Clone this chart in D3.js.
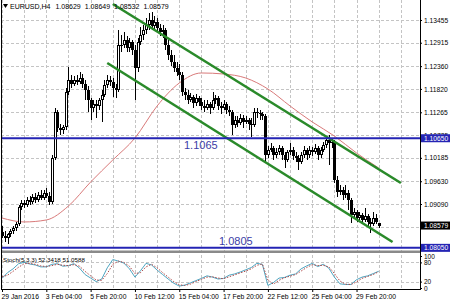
<!DOCTYPE html>
<html lang="en">
<head>
<meta charset="utf-8">
<script src="https://d3js.org/d3.v7.min.js"></script>
<style>
    html, body { margin: 0; padding: 0; background: #fff; }
    svg { display: block; font-family: "Liberation Sans", Arial, sans-serif; }
    .price-axis text { font-size: 6.7px; fill: #000; }
    .time-axis text { font-size: 6.8px; fill: #000; }
    .stoch-axis text { font-size: 6.5px; fill: #000; }
</style>
</head>
<body>
<svg id="chart" width="450" height="303"></svg>
<script>
// ---- data ----
var symbol = "EURUSD,H4";
var timeLabels = ["29 Jan 2016", "3 Feb 04:00", "5 Feb 20:00", "10 Feb 12:00", "15 Feb 04:00",
                  "17 Feb 20:00", "22 Feb 12:00", "25 Feb 04:00", "29 Feb 20:00"];
var priceTicks = [1.13455, 1.12915, 1.12360, 1.11820, 1.11265, 1.10725, 1.10185, 1.09630, 1.09090, 1.08550];

var opens = [
    1.08426, 1.08331, 1.08283, 1.08378, 1.08449, 1.08521, 1.08616, 1.09019, 1.09114, 1.09066,
    1.09185, 1.09138, 1.09256, 1.09185, 1.09303, 1.09232, 1.09351, 1.09280, 1.09138, 1.10181,
    1.11273, 1.10893, 1.10845, 1.10917, 1.11747, 1.12031, 1.11936, 1.12031, 1.11984, 1.12079,
    1.11936, 1.11794, 1.11557, 1.11367, 1.11462, 1.11415, 1.11557, 1.11675, 1.11912, 1.12031,
    1.11984, 1.11841, 1.11794, 1.12861, 1.12861, 1.12980, 1.12790, 1.12933, 1.12743, 1.12316,
    1.12933, 1.13098, 1.13217, 1.13336, 1.13455, 1.13313, 1.13408, 1.13265, 1.13170, 1.13217,
    1.12861, 1.12624, 1.12459, 1.12316, 1.12222, 1.12150, 1.11747, 1.11675, 1.11557, 1.11628,
    1.11486, 1.11604, 1.11510, 1.11415, 1.11367, 1.11462, 1.11367, 1.11557, 1.11604, 1.11415,
    1.11367, 1.11462, 1.11320, 1.11273, 1.10964, 1.11083, 1.11012, 1.11130, 1.11036, 1.11083,
    1.10988, 1.10964, 1.11273, 1.11260, 1.11225, 1.11178, 1.10252, 1.10371, 1.10418, 1.10252,
    1.10324, 1.10418, 1.10252, 1.10134, 1.10324, 1.10371, 1.10229, 1.10181, 1.10087, 1.10252,
    1.10371, 1.10252, 1.10371, 1.10324, 1.10418, 1.10252, 1.10371, 1.10490, 1.10608, 1.10537,
    1.10561, 1.09659, 1.09375, 1.09422, 1.09303, 1.09351, 1.09185, 1.08829, 1.08901, 1.08758,
    1.08829, 1.08711, 1.08806, 1.08664, 1.08616, 1.08758, 1.08629];
var highs = [
    1.08569, 1.08449, 1.08402, 1.08498, 1.08569, 1.08664, 1.09066, 1.09185, 1.09185, 1.09256,
    1.09280, 1.09327, 1.09351, 1.09375, 1.09422, 1.09422, 1.09469, 1.09375, 1.10252, 1.11367,
    1.11320, 1.10988, 1.10964, 1.11841, 1.12340, 1.12150, 1.12127, 1.12150, 1.12222, 1.12174,
    1.12031, 1.11889, 1.11604, 1.11557, 1.11557, 1.11604, 1.11794, 1.12031, 1.12150, 1.12127,
    1.12079, 1.11936, 1.13217, 1.13098, 1.13170, 1.13075, 1.13027, 1.12980, 1.12861, 1.13027,
    1.13289, 1.13336, 1.13502, 1.13621, 1.13645, 1.13550, 1.13502, 1.13360, 1.13336, 1.13265,
    1.12980, 1.12743, 1.12624, 1.12459, 1.12411, 1.12222, 1.11841, 1.11794, 1.11723, 1.11675,
    1.11699, 1.11652, 1.11604, 1.11557, 1.11557, 1.11510, 1.11747, 1.11675, 1.11652, 1.11510,
    1.11557, 1.11510, 1.11415, 1.11320, 1.11178, 1.11178, 1.11225, 1.11201, 1.11178, 1.11130,
    1.11130, 1.11367, 1.11367, 1.11320, 1.11273, 1.11225, 1.10466, 1.10537, 1.10466, 1.10418,
    1.10490, 1.10466, 1.10324, 1.10371, 1.10537, 1.10442, 1.10324, 1.10252, 1.10324, 1.10466,
    1.10418, 1.10466, 1.10442, 1.10513, 1.10466, 1.10442, 1.10561, 1.10679, 1.10726, 1.10655,
    1.10608, 1.09755, 1.09541, 1.09494, 1.09541, 1.09422, 1.09232, 1.08995, 1.08948, 1.08901,
    1.08877, 1.08995, 1.08853, 1.08758, 1.08901, 1.08853, 1.08649];
var lows = [
    1.08283, 1.08189, 1.08141, 1.08307, 1.08378, 1.08449, 1.08569, 1.08948, 1.08995, 1.09019,
    1.09066, 1.09090, 1.09114, 1.09138, 1.09185, 1.09185, 1.09232, 1.09066, 1.09090, 1.10134,
    1.10798, 1.10726, 1.10750, 1.10845, 1.11675, 1.11841, 1.11889, 1.11912, 1.11936, 1.11841,
    1.11557, 1.11273, 1.11083, 1.11273, 1.11130, 1.11320, 1.11036, 1.11628, 1.11841, 1.11889,
    1.11628, 1.11604, 1.11747, 1.12696, 1.12790, 1.12696, 1.12696, 1.12624, 1.11557, 1.12222,
    1.12861, 1.12980, 1.13122, 1.13217, 1.13217, 1.13217, 1.13170, 1.13075, 1.13027, 1.12743,
    1.12506, 1.12364, 1.12222, 1.12127, 1.12031, 1.11652, 1.11557, 1.11462, 1.11510, 1.11367,
    1.11415, 1.11415, 1.11320, 1.11273, 1.11320, 1.11225, 1.11320, 1.11462, 1.11320, 1.11225,
    1.11320, 1.11225, 1.11178, 1.10726, 1.10893, 1.10917, 1.10964, 1.10893, 1.10988, 1.10845,
    1.10679, 1.10917, 1.11130, 1.11083, 1.11083, 1.10087, 1.10181, 1.10324, 1.10134, 1.10181,
    1.10252, 1.10134, 1.09944, 1.10087, 1.10252, 1.10134, 1.10087, 1.09897, 1.10039, 1.10181,
    1.10134, 1.10181, 1.10229, 1.10276, 1.10134, 1.10181, 1.10324, 1.10418, 1.10015, 1.10418,
    1.09588, 1.09256, 1.09303, 1.09185, 1.09232, 1.08948, 1.08640, 1.08758, 1.08664, 1.08711,
    1.08616, 1.08664, 1.08569, 1.08402, 1.08569, 1.08616, 1.08532];
var closes = [
    1.08331, 1.08283, 1.08378, 1.08449, 1.08521, 1.08616, 1.09019, 1.09114, 1.09066, 1.09185,
    1.09138, 1.09256, 1.09185, 1.09303, 1.09232, 1.09351, 1.09280, 1.09138, 1.10181, 1.11273,
    1.10893, 1.10845, 1.10917, 1.11747, 1.12031, 1.11936, 1.12031, 1.11984, 1.12079, 1.11936,
    1.11794, 1.11557, 1.11367, 1.11462, 1.11415, 1.11557, 1.11675, 1.11912, 1.12031, 1.11984,
    1.11841, 1.11794, 1.12861, 1.12861, 1.12980, 1.12790, 1.12933, 1.12743, 1.12316, 1.12933,
    1.13098, 1.13217, 1.13336, 1.13455, 1.13313, 1.13408, 1.13265, 1.13170, 1.13217, 1.12861,
    1.12624, 1.12459, 1.12316, 1.12222, 1.12150, 1.11747, 1.11675, 1.11557, 1.11628, 1.11486,
    1.11604, 1.11510, 1.11415, 1.11367, 1.11462, 1.11367, 1.11557, 1.11604, 1.11415, 1.11367,
    1.11462, 1.11320, 1.11273, 1.10964, 1.11083, 1.11012, 1.11130, 1.11036, 1.11083, 1.10988,
    1.10964, 1.11273, 1.11260, 1.11225, 1.11178, 1.10252, 1.10371, 1.10418, 1.10252, 1.10324,
    1.10418, 1.10252, 1.10134, 1.10324, 1.10371, 1.10229, 1.10181, 1.10087, 1.10252, 1.10371,
    1.10252, 1.10371, 1.10324, 1.10418, 1.10252, 1.10371, 1.10490, 1.10608, 1.10537, 1.10561,
    1.09659, 1.09375, 1.09422, 1.09303, 1.09351, 1.09185, 1.08829, 1.08901, 1.08758, 1.08829,
    1.08711, 1.08806, 1.08664, 1.08616, 1.08758, 1.08664, 1.08579];

// moving average, one reading every 8 bars
var maValues = [1.08758, 1.08664, 1.08711, 1.09043, 1.09612, 1.10134, 1.10655, 1.11415, 1.11960,
                1.12198, 1.12174, 1.12079, 1.11818, 1.11415, 1.11036, 1.10703, 1.10300, 1.09944];

// stochastic, one reading every 2 bars
var stochMain = [
    30, 48, 60, 76, 80, 75, 72, 66, 66, 74,
    76, 68, 70, 76, 62, 42, 31, 20, 28, 63,
    89, 84, 78, 60, 34, 54, 77, 72, 56, 42,
    28, 15, 6, 9, 16, 23, 30, 38, 34, 28,
    30, 40, 44, 50, 57, 64, 77, 74, 8, 17,
    31, 33, 40, 44, 60, 69, 77, 67, 74, 62,
    34, 13, 11, 11, 26, 34, 38, 45, 52.3418];
var stochSignal = [
    35, 40, 52, 65, 76, 77, 74, 69, 67, 70,
    74, 71, 70, 73, 68, 52, 38, 25, 24, 45,
    74, 84, 80, 68, 45, 48, 66, 74, 63, 48,
    34, 20, 10, 8, 12, 20, 27, 34, 35, 31,
    29, 35, 41, 47, 53, 60, 71, 75, 25, 12,
    24, 32, 37, 42, 53, 64, 73, 70, 71, 66,
    45, 22, 12, 11, 19, 30, 36, 42, 51.0588];
var stochTicks = [100, 80, 20, 0];
var stochLevels = [80, 20];

// horizontal levels and trend channel (bar index, price)
var levelPrices = [1.10650, 1.08050];
var levelTexts = ["1.1065", "1.0805"];
var channelUpper = [[40, 1.13834], [144, 1.09588]];
var channelLower = [[38, 1.12435], [141, 1.08189]];

// ---- drawing ----
var svg = d3.select("#chart");
var left = 1, right = 420, mainBottom = 250, stochTop = 253, bottom = 289;
var barStep = 8, labelStep = 16, maStep = 8, stochStep = 2;
var last = closes.length - 1;

var x = d3.scaleLinear().domain([0, last]).range([2, 378.7]);
var y = d3.scaleLinear().domain([1.07999, 1.13929]).range([mainBottom, 0]);
var ys = d3.scaleLinear().domain([0, 100]).range([288, 256]);

svg.append("rect").attr("width", 450).attr("height", 303).attr("fill", "#fff");

svg.append("clipPath").attr("id", "clip-main")
    .append("rect").attr("x", left).attr("y", 0).attr("width", right - left).attr("height", mainBottom);
svg.append("clipPath").attr("id", "clip-stoch")
    .append("rect").attr("x", left).attr("y", stochTop).attr("width", right - left).attr("height", bottom - stochTop);

// grid
var gridIdx = d3.range(0, 145, barStep);
var grid = svg.append("g").attr("stroke", "#c4c4c4").attr("stroke-dasharray", "3,2")
    .attr("shape-rendering", "crispEdges");
grid.selectAll(".vgrid").data(gridIdx).join("line").attr("class", "vgrid")
    .attr("x1", d => Math.round(x(d)) + 0.5).attr("x2", d => Math.round(x(d)) + 0.5)
    .attr("y1", 0).attr("y2", bottom);
grid.selectAll(".hgrid").data(priceTicks).join("line").attr("class", "hgrid")
    .attr("x1", left).attr("x2", right)
    .attr("y1", d => Math.round(y(d)) + 0.5).attr("y2", d => Math.round(y(d)) + 0.5);
grid.selectAll(".sgrid").data(stochLevels).join("line").attr("class", "sgrid")
    .attr("x1", left).attr("x2", right)
    .attr("y1", d => Math.round(ys(d)) + 0.5).attr("y2", d => Math.round(ys(d)) + 0.5);

var main = svg.append("g").attr("clip-path", "url(#clip-main)");

// moving average
var maLine = d3.line().curve(d3.curveMonotoneX)
    .x((d, i) => x(i * maStep)).y(d => y(d));
main.append("path").attr("d", maLine(maValues))
    .attr("fill", "none").attr("stroke", "#d97a7a").attr("stroke-width", 1);

// candles
var bars = closes.map(function(c, i) {
    return {i: i, o: opens[i], h: highs[i], l: lows[i], c: c};
});
var candles = main.append("g").attr("shape-rendering", "crispEdges");
candles.selectAll(".wick").data(bars).join("rect").attr("class", "wick")
    .attr("x", d => Math.round(x(d.i)))
    .attr("width", 1)
    .attr("y", d => Math.round(y(d.h)))
    .attr("height", d => Math.max(1, Math.round(y(d.l)) - Math.round(y(d.h))))
    .attr("fill", "#000");
candles.selectAll(".body").data(bars).join("rect").attr("class", "body")
    .attr("x", d => Math.round(x(d.i)) - 1)
    .attr("width", 3)
    .attr("y", d => Math.round(y(Math.max(d.o, d.c))))
    .attr("height", d => Math.max(1, Math.round(y(Math.min(d.o, d.c))) - Math.round(y(Math.max(d.o, d.c)))))
    .attr("fill", "#000");
candles.selectAll(".hollow").data(bars.filter(d => d.c > d.o && Math.round(y(d.o)) - Math.round(y(d.c)) > 2))
    .join("rect").attr("class", "hollow")
    .attr("x", d => Math.round(x(d.i)))
    .attr("width", 1)
    .attr("y", d => Math.round(y(d.c)) + 1)
    .attr("height", d => Math.round(y(d.o)) - Math.round(y(d.c)) - 2)
    .attr("fill", "#fff");

// trend channel
[channelUpper, channelLower].forEach(function(seg) {
    main.append("line")
        .attr("x1", x(seg[0][0])).attr("y1", y(seg[0][1]))
        .attr("x2", x(seg[1][0])).attr("y2", y(seg[1][1]))
        .attr("stroke", "#2a8a2a").attr("stroke-width", 2.6).attr("stroke-linecap", "butt");
});

// horizontal levels
main.selectAll(".level").data(levelPrices).join("line").attr("class", "level")
    .attr("x1", left).attr("x2", right)
    .attr("y1", d => y(d)).attr("y2", d => y(d))
    .attr("stroke", "#2424b4").attr("stroke-width", 2);
svg.append("text").attr("x", 184).attr("y", y(levelPrices[0]) + 10.5)
    .attr("font-size", 11).attr("fill", "#3c3ca6").text(levelTexts[0]);
svg.append("text").attr("x", 219).attr("y", y(levelPrices[1]) - 3)
    .attr("font-size", 11).attr("fill", "#3c3ca6").text(levelTexts[1]);

// separator between panels
svg.append("rect").attr("x", left).attr("y", 250.5).attr("width", right - left).attr("height", 2.5)
    .attr("fill", "#8a8a8a");

// stochastic
var stoch = svg.append("g").attr("clip-path", "url(#clip-stoch)");
var sLine = d3.line().x((d, i) => x(i * stochStep)).y(d => ys(d));
stoch.append("path").attr("d", sLine(stochMain))
    .attr("fill", "none").attr("stroke", "#4fa6c2").attr("stroke-width", 1);
stoch.append("path").attr("d", sLine(stochSignal))
    .attr("fill", "none").attr("stroke", "#b04848").attr("stroke-width", 1)
    .attr("stroke-dasharray", "1.5,1.5");
svg.append("text").attr("x", 3).attr("y", 262).attr("font-size", 6.2).attr("fill", "#000")
    .text("Stoch(5,3,3) " + stochMain[stochMain.length - 1].toFixed(4) + " " +
          stochSignal[stochSignal.length - 1].toFixed(4));

// frame
var frame = svg.append("g").attr("stroke", "#000").attr("shape-rendering", "crispEdges");
frame.append("line").attr("x1", 1.5).attr("x2", 1.5).attr("y1", 0).attr("y2", bottom);
frame.append("line").attr("x1", right + 0.5).attr("x2", right + 0.5).attr("y1", 0).attr("y2", bottom + 1);
frame.append("line").attr("x1", left).attr("x2", right).attr("y1", bottom + 0.5).attr("y2", bottom + 0.5);

// price axis
svg.append("g").attr("class", "price-axis")
    .attr("transform", "translate(" + right + ",0)")
    .call(d3.axisRight(y).tickValues(priceTicks).tickFormat(d3.format(".5f")).tickSize(2).tickPadding(2))
    .call(g => g.select(".domain").remove());

// stochastic axis
svg.append("g").attr("class", "stoch-axis")
    .attr("transform", "translate(" + right + ",0)")
    .call(d3.axisRight(ys).tickValues(stochTicks).tickFormat(d3.format("d")).tickSize(2).tickPadding(2))
    .call(g => g.select(".domain").remove());

// time axis
var labelIdx = timeLabels.map((d, i) => i * labelStep);
svg.append("g").attr("class", "time-axis")
    .attr("transform", "translate(0," + bottom + ")")
    .call(d3.axisBottom(x).tickValues(labelIdx).tickFormat((d, i) => timeLabels[i]).tickSize(3).tickPadding(2.2))
    .call(g => g.select(".domain").remove())
    .call(g => g.selectAll("text").attr("text-anchor", "start").attr("x", -1));

// price boxes on the axis
var boxes = [
    {p: levelPrices[0], fill: "#2424b4"},
    {p: levelPrices[1], fill: "#2424b4"},
    {p: closes[last], fill: "#000"}
];
var box = svg.append("g").selectAll("g").data(boxes).join("g")
    .attr("transform", d => "translate(" + (right + 1) + "," + y(d.p) + ")");
box.append("rect").attr("x", 0).attr("y", -4).attr("width", 29).attr("height", 8).attr("fill", d => d.fill);
box.append("text").attr("x", 3).attr("y", 2.4).attr("font-size", 6.7).attr("fill", "#fff")
    .text(d => d.p.toFixed(5));

// header
svg.append("path").attr("d", "M3,4 L8,4 L5.5,8 Z").attr("fill", "#000");
var header = svg.append("text").attr("x", 10).attr("y", 9).attr("font-size", 7).attr("fill", "#000");
header.append("tspan").text(symbol);
[opens[last], highs[last], lows[last], closes[last]].forEach(function(v, k) {
    header.append("tspan").attr("dx", k === 0 ? 5 : 4).text(v.toFixed(5));
});
</script>
</body>
</html>
